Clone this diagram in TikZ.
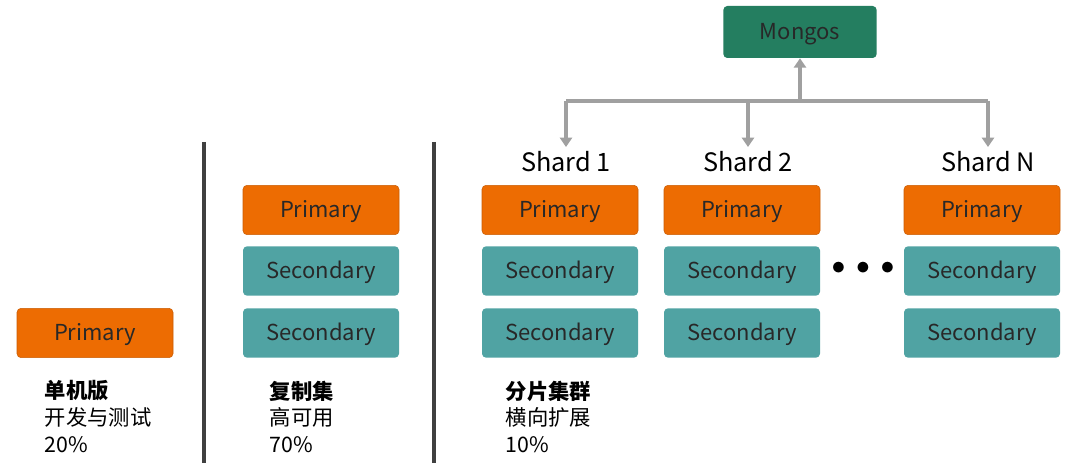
\documentclass[tikz,border=0pt]{standalone}
\usepackage{fontspec}
\setmainfont{Noto Sans CJK SC}
\usepackage{tikz}
\usetikzlibrary{arrows.meta,positioning}
\definecolor{primorange}{RGB}{237,108,2}
\definecolor{secteal}{RGB}{80,163,163}
\definecolor{mongogreen}{RGB}{36,126,96}
\definecolor{linegray}{RGB}{160,160,160}
\definecolor{textgray}{RGB}{40,40,40}
\begin{document}
\begin{tikzpicture}[x=0.75pt, y=-0.75pt,
    box/.style={rectangle, rounded corners=3pt, minimum width=117pt, minimum height=37pt,
        text=textgray, font=\fontsize{16.5}{19}\selectfont, text height=14pt, text depth=2pt},
    prim/.style={box, fill=primorange, draw=primorange!85!black},
    sec/.style={box, fill=secteal},
    router/.style={box, fill=mongogreen, minimum width=115pt, minimum height=39pt},
    link/.style={draw=linegray, line width=3pt, -{Triangle[length=7pt,width=9pt]}},
    caption/.style={align=left, anchor=north west, text=black, font=\fontsize{16}{20}\selectfont},
    shard/.style={font=\fontsize{19}{22}\selectfont, text=black}
]
\useasboundingbox (0,0) rectangle (1072,463);

% Standalone
\node[prim] (p0) at (95,333) {Primary};
\node[caption] (t0) at (40,376) {\textbf{单机版}\\开发与测试\\20\%};

% separators
\draw[line width=2.5pt, draw=black!75] (204,142) -- (204,463);
\draw[line width=2.5pt, draw=black!75] (434,142) -- (434,463);

% Replica set
\node[prim] (p1) at (321,210) {Primary};
\node[sec] (s1a) at (321,271) {Secondary};
\node[sec] (s1b) at (321,333) {Secondary};
\node[caption] (t1) at (265,376) {\textbf{复制集}\\高可用\\70\%};

% Sharded cluster
\foreach \x/\n in {560/a, 742/b, 982/c} {
    \node[prim] (p\n) at (\x,210) {Primary};
    \node[sec] (sa\n) at (\x,271) {Secondary};
    \node[sec] (sb\n) at (\x,333) {Secondary};
}
\node[shard] (ha) at (566,162) {Shard 1};
\node[shard] (hb) at (748,162) {Shard 2};
\node[shard] (hc) at (988,162) {Shard N};
\node[font=\fontsize{20}{20}\selectfont] (dots) at (863,268) {$\bullet\,\bullet\,\bullet$};
\node[caption] (t2) at (501,376) {\textbf{分片集群}\\横向扩展\\10\%};

% Mongos and links
\node[router] (m) at (800,32) {Mongos};
\coordinate (hub) at (800,101);
\coordinate (ja) at (566,101);
\coordinate (jb) at (748,101);
\coordinate (jc) at (988,101);
\draw[link] (hub) -- (m);
\draw[draw=linegray, line width=3pt] (ja) -- (jc);
\draw[link] (ja) -- (ha.north);
\draw[link] (jb) -- (hb.north);
\draw[link] (jc) -- (hc.north);

\end{tikzpicture}
\end{document}
